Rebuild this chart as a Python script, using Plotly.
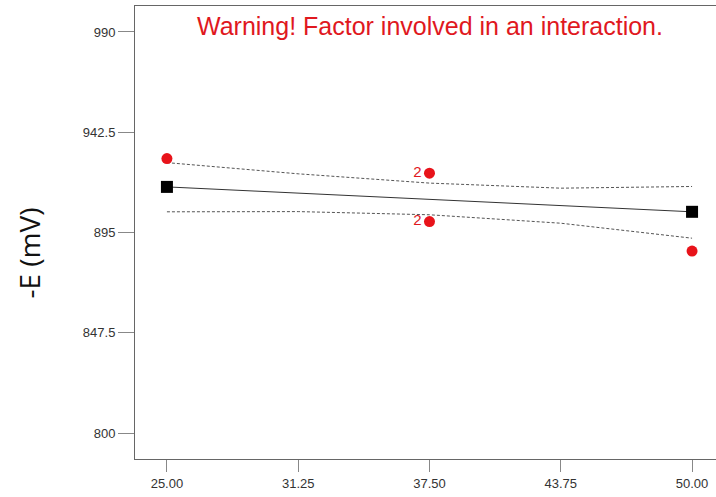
import plotly.graph_objects as go

# Data
x_actual = [25.0, 37.5, 37.5, 50.0]
y_actual = [930.0, 923.1, 900.2, 886.2]
actual_labels = ["", "2", "2", ""]

x_pred = [25.0, 50.0]
y_pred = [916.6, 904.8]

x_ci = [25.0, 31.25, 37.5, 43.75, 50.0]
y_ci_upper = [928.1, 922.8, 918.4, 916.0, 916.8]
y_ci_lower = [904.8, 904.9, 903.4, 899.4, 892.3]

x_ticks = [25.0, 31.25, 37.5, 43.75, 50.0]
x_ticklabels = ["25.00", "31.25", "37.50", "43.75", "50.00"]
y_ticks = [800, 847.5, 895, 942.5, 990]
y_ticklabels = ["800", "847.5", "895", "942.5", "990"]

title_text = "Warning! Factor involved in an interaction."
y_title = "-E (mV)"

fig = go.Figure()

for yy in (y_ci_upper, y_ci_lower):
    fig.add_trace(go.Scatter(
        x=x_ci, y=yy, mode="lines", line=dict(color="#555555", width=1, dash="3px,2px"),
        showlegend=False, hoverinfo="skip"))

fig.add_trace(go.Scatter(
    x=x_pred, y=y_pred, mode="lines+markers",
    line=dict(color="#333333", width=1),
    marker=dict(symbol="square", size=12, color="black"),
    showlegend=False))

fig.add_trace(go.Scatter(
    x=x_actual, y=y_actual, mode="markers+text",
    text=actual_labels, textposition="middle left",
    textfont=dict(color="#e0181e", size=15, family="Liberation Sans, Arial"),
    marker=dict(symbol="circle", size=11, color="#e8131a"),
    showlegend=False))

fig.update_layout(
    width=716, height=497,
    margin=dict(l=135, r=0, t=6, b=38),
    plot_bgcolor="white", paper_bgcolor="white",
    font=dict(family="Liberation Sans, Arial", color="#333333"),
)

fig.update_xaxes(
    range=[23.48, 51.14], tickvals=x_ticks, ticktext=x_ticklabels,
    showgrid=False, zeroline=False, showline=True, linecolor="#666666", linewidth=1,
    mirror=True, ticks="outside", ticklen=12, tickcolor="#888888",
    tickfont=dict(size=13, color="#333333"),
)
fig.update_yaxes(
    range=[787.7, 1002.3], tickvals=y_ticks, ticktext=y_ticklabels,
    showgrid=False, zeroline=False, showline=True, linecolor="#666666", linewidth=1,
    mirror=False, ticks="outside", ticklen=16, tickcolor="#888888",
    tickfont=dict(size=13, color="#333333"),
)

fig.add_annotation(
    text=title_text, xref="paper", yref="paper", x=0.508, y=0.955,
    xanchor="center", yanchor="middle", showarrow=False,
    font=dict(size=25, color="#e0181e", family="Liberation Sans, Arial"))

fig.add_annotation(
    text=y_title, xref="paper", yref="paper", x=-0.183, y=0.455,
    xanchor="center", yanchor="middle", showarrow=False, textangle=-90,
    font=dict(size=28, color="#111111", family="Open Sans, Liberation Sans"))

fig.write_html("out.html")
